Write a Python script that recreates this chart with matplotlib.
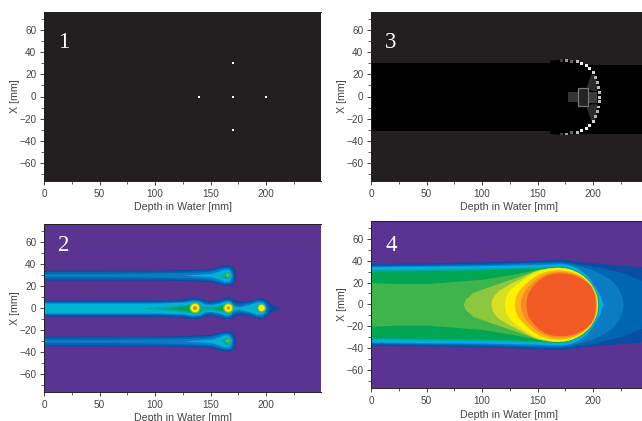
import matplotlib
matplotlib.use("Agg")
import matplotlib.pyplot as plt
from matplotlib.patches import Ellipse, Rectangle
from matplotlib.ticker import MultipleLocator

plt.rcParams['font.family'] = ['Liberation Sans', 'DejaVu Sans']

W, H = 642, 421
XTICKS = [0, 50, 100, 150, 200]
YTICKS = [-60, -40, -20, 0, 20, 40, 60]
XLABEL = "Depth in Water [mm]"
YLABEL = "X [mm]"
PURPLE = "#5a3490"
DARK = "#231f20"
TEXT = "#444444"

# Panel 1: source points
P1_DEPTH = [140, 170, 170, 170, 200]
P1_X = [0, 30, 0, -30, 0]

# Panel 3: difference image
P3_BAND_LEFT_DEPTH = [0, 161]
P3_BAND_LEFT_TOP = [30, 30]
P3_BAND_LEFT_BOTTOM = [-31, -31]
P3_BAND_RIGHT_DEPTH = [161, 249.5]
P3_BAND_RIGHT_TOP = [28.5, 28.5]
P3_BAND_RIGHT_BOTTOM = [-33.7, -33.7]
P3_DOME_DEPTH = [161, 175, 180, 186, 190, 194, 197, 200, 202, 204, 205, 206]
P3_DOME_TOP = [33, 34, 33, 32, 30.5, 28.5, 26, 22.5, 18, 14, 9, 4]
P3_ARC_DEPTH = [172, 176, 181, 186, 190, 194, 197, 200, 202, 204, 204.5, 206, 206]
P3_ARC_TOP = [33.5, 33.5, 32.5, 32, 30.5, 28.5, 26, 22.5, 18, 13.5, 9, 4, 0]
P3_ARC_GREY = [.25, .6, .4, .75, .95, .95, .95, .85, .7, .7, .75, .75, .8]
P3_BLOCKS = [(177, 186, 4.5, "#333333"), (186, 195.5, 8.5, "#242424"), (195.5, 204, 5, "#3c3c3c")]
P3_WEDGE_DEPTH = [194, 198, 202, 203]
P3_WEDGE_INNER = [9, 6, 6, 6]
P3_WEDGE_OUTER = [10, 21, 20, 12]

# Panel 2: contour outlines (half widths)
P2_COLORS = ["#0a4da2", "#0065b3", "#0b7cc2", "#00aeef", "#00b5c8", "#00a99d"]
P2_SIDE_D1 = [0, 100, 130, 150, 158, 162, 166, 170, 172, 172.5]
P2_SIDE_H1 = [4.5, 4.5, 5, 6, 8, 9.3, 9.5, 8, 5, 0]
P2_SIDE_D2 = [0, 100, 130, 150, 158, 163, 167, 170, 171]
P2_SIDE_H2 = [3.5, 3.8, 4, 5, 7, 8.3, 8, 6, 0]
P2_SIDE_D3 = [0, 60, 100, 130, 150, 158, 163, 167, 169, 170]
P2_SIDE_H3 = [1.5, 1.5, 2, 2.5, 3.5, 6, 7, 6.8, 4, 0]
P2_SIDE_D4 = [125, 150, 157, 162, 166, 168, 169]
P2_SIDE_H4 = [0, 1.5, 3.5, 5.5, 5.5, 3, 0]
P2_SIDE_D5 = [146, 157, 162, 166, 167.5, 168]
P2_SIDE_H5 = [0, 2, 3.8, 3.8, 2, 0]
P2_SIDE_D6 = [160, 162, 166, 167.5]
P2_SIDE_H6 = [0, 2.5, 3, 0]

P2_MID_D1 = [0, 100, 120, 128, 133, 140, 146, 150, 158, 162, 168, 172, 178, 185, 190, 194, 198, 202, 206, 213.5]
P2_MID_H1 = [7.3, 7.5, 8, 9, 9.5, 9.5, 7, 6.5, 8, 9.5, 9.5, 7, 6, 7, 8.5, 9.5, 9, 6, 2.5, 0]
P2_MID_D2 = [0, 100, 125, 133, 140, 146, 150, 158, 164, 168, 171, 176, 185, 192, 197, 201, 203]
P2_MID_H2 = [6.3, 6.3, 7, 8.5, 8, 5.8, 5.5, 7, 8.5, 8, 5.5, 4.5, 6, 8.2, 7.8, 5, 0]
P2_MID_D3 = [0, 100, 125, 134, 140, 145, 150, 158, 164, 168, 170, 176, 185, 192, 197, 200, 201]
P2_MID_H3 = [5.3, 5.3, 6, 7.5, 7, 4.5, 4, 5.5, 7.5, 7, 4, 2.5, 4.5, 7, 6.5, 3.5, 0]
P2_MID_D4 = [0, 100, 125, 134, 140, 144, 150, 158, 164, 168, 169, 172, 176, 185, 192, 197, 199, 200]
P2_MID_H4 = [4.5, 4.5, 5.2, 6.5, 6, 3.5, 3, 4.5, 6.5, 6, 3, 1.5, 1, 3.5, 5.5, 5.5, 3, 0]
P2_MID_D5 = [0, 100, 125, 134, 140, 143, 150, 158, 164, 168, 169, 172, 180, 190, 193, 197, 198, 199]
P2_MID_H5 = [3, 3, 4, 5.5, 5, 2.5, 2, 3.5, 5.5, 5, 2, 0.8, 1, 3.5, 5, 5, 2.5, 0]
P2_MID_D6 = [90, 100, 125, 135, 140, 143, 150, 158, 164, 168, 169, 170]
P2_MID_H6 = [0, 1.0, 3, 4.8, 4.2, 1.8, 1.2, 2.5, 4.8, 4.2, 1, 0]
P2_WEDGE1_D = [112, 125, 136]
P2_WEDGE1_H = [0, 1.8, 4]
P2_WEDGE2_D = [148, 158, 166]
P2_WEDGE2_H = [0, 1.5, 4]
P2_WEDGE_COLOR = "#00a651"

P2_SPOT_DEPTH = [136, 166, 196]
P2_SPOT_COLORS = ["#3db54a", "#8dc63f", "#fff200", "#f7941d", "#f15a24"]
P2_SPOT1_R = [5.3, 4.5, 3.7, 1.9, 0.8]
P2_SPOT2_R = [5, 4.2, 3.4, 1.6, 0.6]
P2_SPOT3_R = [4, 3.4, 2.8, 0, 0]
P2_SIDE_SPOT_DEPTH = 165.5
P2_SIDE_SPOT_COLORS = ["#3db54a", "#8dc63f"]
P2_SIDE_SPOT_R = [2.4, 0.9]

# Panel 4: contour outlines (half widths), outer to inner
P4_COLORS = ["#0a4da2", "#0065b3", "#0b7cc2", "#00aeef", "#00b5c8", "#00a99d", "#00a651", "#3db54a",
             "#8dc63f", "#d7df23", "#fff200", "#fcb414", "#f68b1f", "#f15a24"]
P4_D1 = [0, 50, 100, 150, 170, 185, 200, 249.5]
P4_H1 = [37.5, 38, 39, 40.5, 41.5, 39.5, 38, 34]
P4_D2 = [0, 50, 100, 150, 170, 185, 206, 227, 249.5]
P4_H2 = [36.3, 36.8, 37.8, 39, 39.8, 37.5, 34, 29, 19.5]
P4_D3 = [0, 50, 100, 150, 170, 180, 190, 200, 210, 218, 223, 226, 227]
P4_H3 = [35.3, 35.8, 36.5, 38, 38.5, 37, 34.5, 31.5, 26.5, 21, 14, 7, 0]
P4_D4 = [0, 50, 100, 150, 168, 175, 180, 185, 190, 195, 198, 202, 206, 209]
P4_H4 = [34.5, 35, 35.5, 36.5, 37.2, 36.8, 35.7, 33.4, 30.5, 26, 22, 16, 9, 0]
P4_D5 = [0, 50, 100, 150, 168, 175, 180, 185, 190, 195, 198, 201, 204.8, 207]
P4_H5 = [33, 33.5, 34, 35, 36, 35.3, 34, 31.8, 28.8, 24.3, 20.6, 15.6, 8.5, 0]
P4_D6 = [0, 50, 100, 150, 168, 175, 180, 185, 190, 195, 198, 201, 204, 205.5]
P4_H6 = [32, 32.5, 33, 34, 35, 34.3, 33, 30.9, 27.9, 23.5, 19.8, 14.8, 8, 0]
P4_D7 = [0, 50, 100, 150, 168, 175, 180, 185, 190, 195, 198, 201, 203.6, 205]
P4_H7 = [30.5, 31, 31.5, 33.5, 34.5, 33.8, 32.5, 30.4, 27.4, 23, 19.3, 14, 8, 0]
P4_D8 = [0, 25, 50, 100, 130, 150, 160, 168, 175, 180, 185, 190, 195, 198, 201, 203.4, 204.5]
P4_H8 = [20, 19, 19, 23, 28, 32, 33.6, 34.2, 33.5, 32.2, 30.1, 27.1, 22.7, 19, 13.8, 8, 0]
P4_D9 = [83, 85, 92, 100, 120, 140, 150, 160, 168, 175, 180, 185, 190, 195, 198, 201, 203.3, 204.3]
P4_H9 = [0, 5, 11, 14, 21, 28, 31.8, 33.5, 34.1, 33.4, 32.1, 30, 27, 22.6, 18.9, 13.7, 8, 0]
P4_D10 = [108, 109, 111, 115, 120, 125, 130, 135, 140, 146, 152, 160, 168, 175, 180, 185, 190, 195, 198, 201, 203.2, 204.1]
P4_H10 = [0, 5, 9, 13, 16, 19, 21.5, 24, 26.8, 30, 32, 33.4, 34, 33.3, 32, 29.9, 26.9, 22.5, 18.8, 13.6, 8, 0]
P4_D11 = [120, 121, 123, 126, 130, 135, 140, 146, 152, 160, 168, 175, 180, 185, 190, 195, 198, 201, 203, 204]
P4_H11 = [0, 6, 11, 14.5, 18, 21.5, 25, 28.5, 31, 33, 33.7, 33.1, 31.8, 29.7, 26.7, 22.3, 18.6, 13.4, 8, 0]
P4_D12 = [129, 130, 132, 135, 140, 146, 152, 160, 168, 175, 180, 185, 190, 195, 198, 201, 202.6, 203.4]
P4_H12 = [0, 6, 11, 15, 20, 25, 28.5, 31, 31.8, 31.3, 30.2, 28.3, 25.5, 21.3, 17.8, 12.8, 8, 0]
P4_D13 = [134.5, 135.5, 137.5, 140, 145, 150, 156, 162, 168, 175, 180, 185, 190, 195, 198, 200.5, 202, 202.8]
P4_H13 = [0, 6, 11, 15, 20, 24.5, 27.5, 29.5, 30.2, 29.9, 28.9, 27.2, 24.6, 20.6, 17.2, 12.5, 8, 0]
P4_D14 = [139.6, 140, 141.2, 143.5, 147, 151, 156, 162, 168, 175, 180, 185, 190, 195, 198, 200.3, 201.5, 202]
P4_H14 = [0, 5, 10, 14, 18.5, 22.5, 25.7, 28, 28.7, 28.5, 27.6, 26, 23.5, 19.7, 16.3, 11.5, 6, 0]


def make_axes(left, top, bottom, numeral, num_x, num_y, label_y, ylab_x, face):
    ax = fig.add_axes([left / W, 1 - bottom / H, 277 / W, (bottom - top) / H])
    ax.set_xlim(0, 249.5)
    ax.set_ylim(-76.6, 76.6)
    ax.set_facecolor(face)
    ax.set_xticks(XTICKS)
    ax.set_yticks(YTICKS)
    ax.xaxis.set_minor_locator(MultipleLocator(25))
    ax.yaxis.set_minor_locator(MultipleLocator(10))
    ax.tick_params(which='major', length=3, width=0.7, labelsize=7.2, pad=2.5, colors=TEXT)
    ax.tick_params(which='minor', length=2, width=0.6, colors=TEXT)
    ax.spines['right'].set_visible(False)
    for side in ('left', 'bottom', 'top'):
        ax.spines[side].set_linewidth(0.7)
        ax.spines[side].set_color("#222222")
    fig.text((left + 277 / 2) / W, 1 - label_y / H, XLABEL, ha='center', va='center', fontsize=7.7, color=TEXT)
    fig.text(ylab_x / W, 1 - (top + bottom) / 2 / H, YLABEL, ha='center', va='center', rotation=90,
             fontsize=7.7, color=TEXT)
    fig.text(num_x / W, 1 - num_y / H, numeral, ha='center', va='center', color="white", fontsize=16.5,
             family=['Liberation Serif'])
    return ax


def band(ax, depth, half, color, centre=0.0, z=2):
    ax.fill_between(depth, [centre - h for h in half], [centre + h for h in half], color=color, lw=0, zorder=z)


fig = plt.figure(figsize=(W / 100, H / 100), dpi=100, facecolor="white")

# Panel 1
a1 = make_axes(44, 12, 181, "1", 64, 42, 206.7, 15, DARK)
a1.scatter(P1_DEPTH, P1_X, s=3.5, marker='s', color="white", linewidths=0, zorder=3)

# Panel 3
a3 = make_axes(371, 12, 181, "3", 391, 42, 206.7, 342, DARK)
a3.fill_between(P3_BAND_LEFT_DEPTH, P3_BAND_LEFT_BOTTOM, P3_BAND_LEFT_TOP, color="black", lw=0, zorder=2)
a3.fill_between(P3_BAND_RIGHT_DEPTH, P3_BAND_RIGHT_BOTTOM, P3_BAND_RIGHT_TOP, color="black", lw=0, zorder=2)
a3.fill_between(P3_DOME_DEPTH, [-h - 0.5 for h in P3_DOME_TOP], P3_DOME_TOP, color="black", lw=0, zorder=2)
for d0, d1, h, c in P3_BLOCKS:
    a3.add_patch(Rectangle((d0, -h - 0.5), d1 - d0, 2 * h, color=c, lw=0, zorder=3))
for sign in (1, -1):
    a3.fill_between(P3_WEDGE_DEPTH, [sign * h - 0.5 for h in P3_WEDGE_INNER],
                    [sign * h - 0.5 for h in P3_WEDGE_OUTER], color="#2c2c2c", lw=0, zorder=3)
    a3.scatter(P3_ARC_DEPTH, [sign * h - 0.5 for h in P3_ARC_TOP], s=4.5, marker='s', c=P3_ARC_GREY,
               cmap='gray', vmin=0, vmax=1, linewidths=0, zorder=5)
a3.add_patch(Rectangle((186, -9), 9.5, 17, fill=False, ec="#777777", lw=0.9, zorder=4))

# Panel 2
a2 = make_axes(44, 224, 392, "2", 64, 245, 418, 15, PURPLE)
side_d = [P2_SIDE_D1, P2_SIDE_D2, P2_SIDE_D3, P2_SIDE_D4, P2_SIDE_D5, P2_SIDE_D6]
side_h = [P2_SIDE_H1, P2_SIDE_H2, P2_SIDE_H3, P2_SIDE_H4, P2_SIDE_H5, P2_SIDE_H6]
mid_d = [P2_MID_D1, P2_MID_D2, P2_MID_D3, P2_MID_D4, P2_MID_D5, P2_MID_D6]
mid_h = [P2_MID_H1, P2_MID_H2, P2_MID_H3, P2_MID_H4, P2_MID_H5, P2_MID_H6]
for c, d, h in zip(P2_COLORS, side_d, side_h):
    band(a2, d, h, c, 30)
    band(a2, d, h, c, -30)
for c, d, h in zip(P2_COLORS, mid_d, mid_h):
    band(a2, d, h, c, 0)
band(a2, P2_WEDGE1_D, P2_WEDGE1_H, P2_WEDGE_COLOR, 0, z=3)
band(a2, P2_WEDGE2_D, P2_WEDGE2_H, P2_WEDGE_COLOR, 0, z=3)
for depth, radii in zip(P2_SPOT_DEPTH, [P2_SPOT1_R, P2_SPOT2_R, P2_SPOT3_R]):
    for c, r in zip(P2_SPOT_COLORS, radii):
        if r > 0:
            a2.add_patch(Ellipse((depth, 0), 2 * r, 2 * r, color=c, lw=0, zorder=4))
for centre in (30, -30):
    for c, r in zip(P2_SIDE_SPOT_COLORS, P2_SIDE_SPOT_R):
        a2.add_patch(Ellipse((P2_SIDE_SPOT_DEPTH, centre), 2 * r, 2 * r, color=c, lw=0, zorder=4))

# Panel 4
a4 = make_axes(371, 220.7, 388, "4", 391, 245, 415, 342, PURPLE)
p4_d = [P4_D1, P4_D2, P4_D3, P4_D4, P4_D5, P4_D6, P4_D7, P4_D8, P4_D9, P4_D10, P4_D11, P4_D12, P4_D13, P4_D14]
p4_h = [P4_H1, P4_H2, P4_H3, P4_H4, P4_H5, P4_H6, P4_H7, P4_H8, P4_H9, P4_H10, P4_H11, P4_H12, P4_H13, P4_H14]
for c, d, h in zip(P4_COLORS, p4_d, p4_h):
    band(a4, d, h, c, 0)

fig.savefig("out.png", dpi=100)
